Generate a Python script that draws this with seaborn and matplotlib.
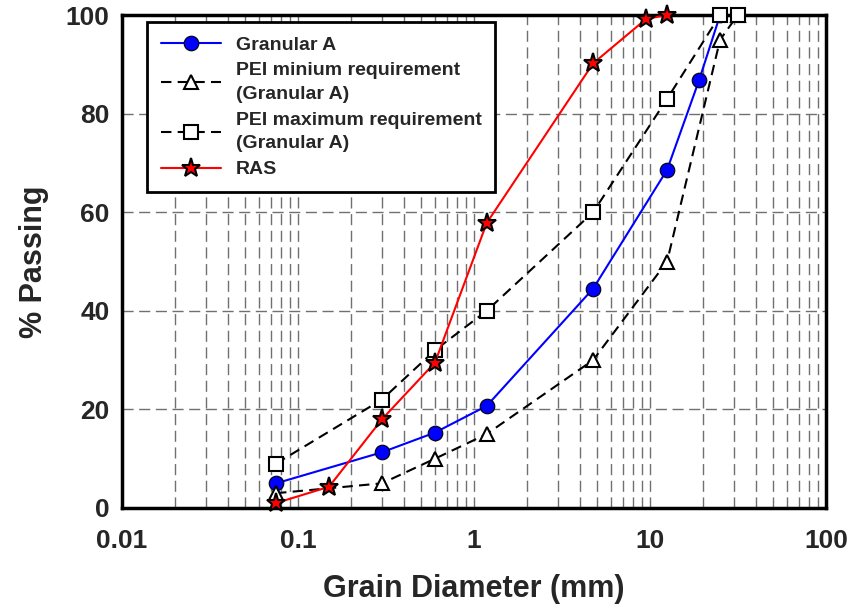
import matplotlib
matplotlib.use("Agg")
import matplotlib.pyplot as plt
import seaborn as sns
import pandas as pd
from matplotlib.ticker import MultipleLocator, LogLocator, NullFormatter, FixedLocator, FixedFormatter

# ---- data ----
granA_x = [0.075, 0.3, 0.6, 1.18, 4.75, 12.5, 19, 25]
granA_y = [5.0, 11.3, 15.3, 20.7, 44.5, 68.6, 86.8, 100]

pei_min_x = [0.075, 0.3, 0.6, 1.18, 4.75, 12.5, 25, 31.5]
pei_min_y = [3, 5, 10, 15, 30, 50, 95, 100]

pei_max_x = [0.075, 0.3, 0.6, 1.18, 4.75, 12.5, 25, 31.5]
pei_max_y = [9, 22, 32, 40, 60, 83, 100, 100]

ras_x = [0.075, 0.15, 0.3, 0.6, 1.18, 4.75, 9.5, 12.5]
ras_y = [1, 4.3, 18, 29.5, 57.8, 90.2, 99.2, 100]

labels = ["Granular A", "PEI minium requirement\n(Granular A)",
          "PEI maximum requirement\n(Granular A)", "RAS"]
x_ticks = [0.01, 0.1, 1, 10, 100]
x_ticklabels = ["0.01", "0.1", "1", "10", "100"]
y_ticks = [0, 20, 40, 60, 80, 100]

sns.set_style("white")
plt.rcParams['font.family'] = ['Liberation Sans', 'DejaVu Sans']
plt.rcParams['font.weight'] = 'bold'

fig = plt.figure(figsize=(8.49, 6.08), dpi=100)
ax = fig.add_axes([0.1437, 0.1645, 0.8293, 0.8108])

dash = (0, (5, 3))
common = dict(ax=ax, sort=False, estimator=None, lw=1.5, clip_on=False)
sns.lineplot(x=granA_x, y=granA_y, color="#0000ff", marker="o", markersize=10.5,
             markerfacecolor="#0000ff", markeredgecolor="black",
             markeredgewidth=0.8, label=labels[0], zorder=3, **common)
sns.lineplot(x=pei_min_x, y=pei_min_y, color="black", linestyle=dash,
             marker="^", markersize=10.5,
             markerfacecolor="white", markeredgecolor="black",
             markeredgewidth=1.5, label=labels[1], zorder=3, **common)
sns.lineplot(x=pei_max_x, y=pei_max_y, color="black", linestyle=dash,
             marker="s", markersize=9.5,
             markerfacecolor="white", markeredgecolor="black",
             markeredgewidth=1.5, label=labels[2], zorder=3, **common)
sns.lineplot(x=ras_x, y=ras_y, color="#ff0000", marker="*", markersize=14,
             markerfacecolor="#ff0000", markeredgecolor="black",
             markeredgewidth=1.5, label=labels[3], zorder=4, **common)

ax.set_xscale("log")
ax.set_xlim(0.01, 100)
ax.set_ylim(0, 100)

ax.xaxis.set_major_locator(FixedLocator(x_ticks))
ax.xaxis.set_major_formatter(FixedFormatter(x_ticklabels))
ax.xaxis.set_minor_locator(LogLocator(base=10, subs=range(2, 10)))
ax.xaxis.set_minor_formatter(NullFormatter())
ax.yaxis.set_major_locator(FixedLocator(y_ticks))
ax.yaxis.set_minor_locator(MultipleLocator(4))

ax.grid(True, which="both", axis="x", color="#707070", lw=1.0, linestyle=(0, (8, 4)))
ax.grid(True, which="major", axis="y", color="#707070", lw=1.0, linestyle=(0, (8, 4)))

ax.tick_params(axis="both", which="major", direction="in", length=7, width=1.5,
               labelsize=19, top=False, right=False)
ax.tick_params(axis="x", which="major", pad=15)
ax.tick_params(axis="y", which="major", pad=9)
ax.tick_params(axis="both", which="minor", direction="in", length=5, width=1.2,
               top=False, right=False)
for lab in ax.get_xticklabels() + ax.get_yticklabels():
    lab.set_fontweight("bold")

for s in ax.spines.values():
    s.set_linewidth(2.5)
    s.set_color("black")

ax.set_xlabel("Grain Diameter (mm)", fontsize=22, fontweight="bold", labelpad=15)
ax.set_ylabel("% Passing", fontsize=22, fontweight="bold", labelpad=12)

leg = ax.legend(loc="upper left", bbox_to_anchor=(0.036, 0.985), borderaxespad=0,
                fontsize=14, frameon=True, fancybox=False, edgecolor="black",
                framealpha=1, handlelength=3.1, borderpad=0.7, labelspacing=0.45,
                handletextpad=0.75)
leg.get_frame().set_linewidth(2.0)
for t in leg.get_texts():
    t.set_fontweight("bold")
    t.set_linespacing(1.5)

fig.savefig("out.png", dpi=100)
